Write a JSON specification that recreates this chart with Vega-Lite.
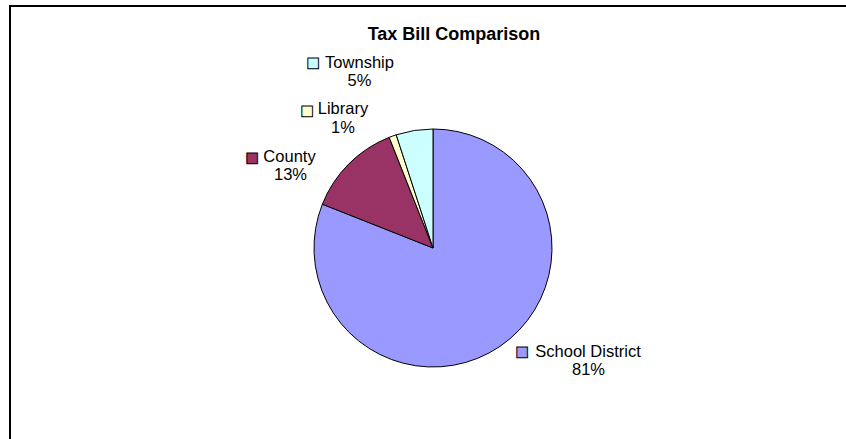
{
  "$schema": "https://vega.github.io/schema/vega-lite/v6.json",
  "width": 846,
  "height": 484,
  "autosize": "none",
  "padding": {"left": 10, "top": 6, "right": -10, "bottom": -51},
  "background": "white",
  "view": {"stroke": "black", "strokeWidth": 2, "fill": "white"},
  "config": {
    "view": {"stroke": "black", "strokeWidth": 2},
    "text": {"font": "Liberation Sans", "fontSize": 16.5, "color": "black"}
  },
  "title": {
    "text": "Tax Bill Comparison",
    "font": "Liberation Sans",
    "fontSize": 18,
    "fontWeight": "bold",
    "color": "black",
    "anchor": "middle",
    "frame": "group",
    "dx": 21,
    "offset": -52,
    "baseline": "alphabetic"
  },
  "data": {
    "values": [
      {"category": "School District", "share": 0.81, "seq": 1},
      {"category": "County", "share": 0.13, "seq": 2},
      {"category": "Library", "share": 0.01, "seq": 3},
      {"category": "Township", "share": 0.05, "seq": 4}
    ]
  },
  "layer": [
    {
      "mark": {"type": "arc", "outerRadius": 119, "stroke": "black", "strokeWidth": 1},
      "encoding": {
        "theta": {"field": "share", "type": "quantitative", "stack": true},
        "order": {"field": "seq", "type": "quantitative"},
        "color": {
          "field": "category",
          "type": "nominal",
          "scale": {
            "domain": ["School District", "County", "Library", "Township"],
            "range": ["#9999FF", "#993366", "#FFFFCC", "#CCFFFF"]
          },
          "legend": null
        }
      }
    },
    {
      "transform": [{"filter": "datum.category === 'School District'"}],
      "mark": {"type": "text", "align": "center", "baseline": "alphabetic", "dx": 155, "dy": 109},
      "encoding": {"text": {"field": "category", "type": "nominal"}}
    },
    {
      "transform": [{"filter": "datum.category === 'School District'"}],
      "mark": {"type": "text", "align": "center", "baseline": "alphabetic", "dx": 155.5, "dy": 127},
      "encoding": {"text": {"field": "share", "type": "quantitative", "format": ".0%"}}
    },
    {
      "transform": [{"filter": "datum.category === 'School District'"}],
      "mark": {"type": "text", "text": "■", "font": "DejaVu Sans", "fontSize": 14, "align": "center", "baseline": "middle", "dx": 89, "dy": 104, "stroke": "black", "strokeWidth": 1},
      "encoding": {"color": {"field": "category", "type": "nominal", "legend": null}}
    },
    {
      "transform": [{"filter": "datum.category === 'County'"}],
      "mark": {"type": "text", "align": "center", "baseline": "alphabetic", "dx": -143.5, "dy": -86},
      "encoding": {"text": {"field": "category", "type": "nominal"}}
    },
    {
      "transform": [{"filter": "datum.category === 'County'"}],
      "mark": {"type": "text", "align": "center", "baseline": "alphabetic", "dx": -142.5, "dy": -68},
      "encoding": {"text": {"field": "share", "type": "quantitative", "format": ".0%"}}
    },
    {
      "transform": [{"filter": "datum.category === 'County'"}],
      "mark": {"type": "text", "text": "■", "font": "DejaVu Sans", "fontSize": 14, "align": "center", "baseline": "middle", "dx": -181, "dy": -90, "stroke": "black", "strokeWidth": 1},
      "encoding": {"color": {"field": "category", "type": "nominal", "legend": null}}
    },
    {
      "transform": [{"filter": "datum.category === 'Library'"}],
      "mark": {"type": "text", "align": "center", "baseline": "alphabetic", "dx": -90, "dy": -134},
      "encoding": {"text": {"field": "category", "type": "nominal"}}
    },
    {
      "transform": [{"filter": "datum.category === 'Library'"}],
      "mark": {"type": "text", "align": "center", "baseline": "alphabetic", "dx": -90, "dy": -115},
      "encoding": {"text": {"field": "share", "type": "quantitative", "format": ".0%"}}
    },
    {
      "transform": [{"filter": "datum.category === 'Library'"}],
      "mark": {"type": "text", "text": "■", "font": "DejaVu Sans", "fontSize": 14, "align": "center", "baseline": "middle", "dx": -126, "dy": -137.5, "stroke": "black", "strokeWidth": 1},
      "encoding": {"color": {"field": "category", "type": "nominal", "legend": null}}
    },
    {
      "transform": [{"filter": "datum.category === 'Township'"}],
      "mark": {"type": "text", "align": "center", "baseline": "alphabetic", "dx": -73.5, "dy": -180},
      "encoding": {"text": {"field": "category", "type": "nominal"}}
    },
    {
      "transform": [{"filter": "datum.category === 'Township'"}],
      "mark": {"type": "text", "align": "center", "baseline": "alphabetic", "dx": -73.5, "dy": -162},
      "encoding": {"text": {"field": "share", "type": "quantitative", "format": ".0%"}}
    },
    {
      "transform": [{"filter": "datum.category === 'Township'"}],
      "mark": {"type": "text", "text": "■", "font": "DejaVu Sans", "fontSize": 14, "align": "center", "baseline": "middle", "dx": -120, "dy": -185, "stroke": "black", "strokeWidth": 1},
      "encoding": {"color": {"field": "category", "type": "nominal", "legend": null}}
    }
  ]
}
